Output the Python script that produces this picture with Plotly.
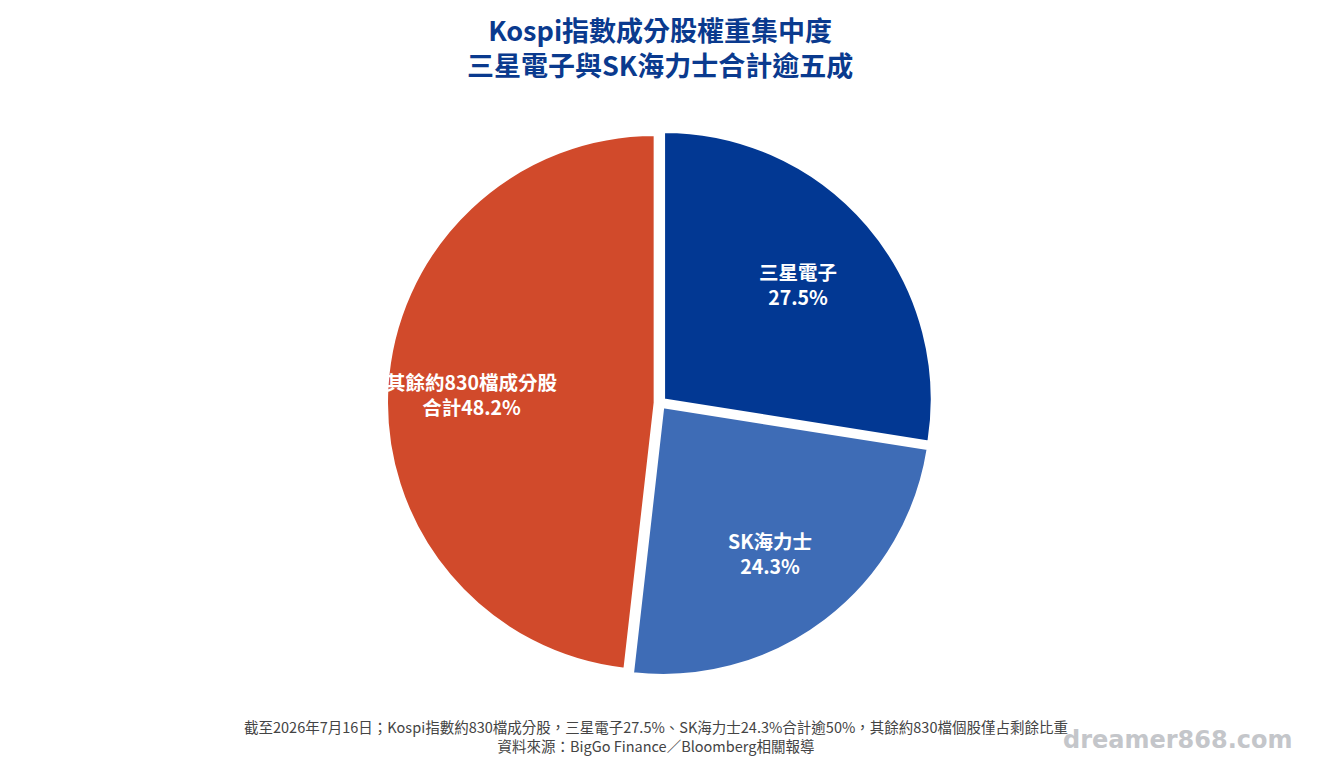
import math
import plotly.graph_objects as go

labels = ["三星電子", "SK海力士", "其餘約830檔成分股"]
values = [27.5, 24.3, 48.2]
slice_text = ["三星電子<br>27.5%", "SK海力士<br>24.3%", "其餘約830檔成分股<br>合計48.2%"]
colors = ["#023893", "#3e6cb6", "#d14a2b"]

title_text = "Kospi指數成分股權重集中度<br>三星電子與SK海力士合計逾五成"
note_text = ("截至2026年7月16日；Kospi指數約830檔成分股，三星電子27.5%、SK海力士24.3%合計逾50%，其餘約830檔個股僅占剩餘比重"
             "<br>資料來源：BigGo Finance／Bloomberg相關報導")
watermark = "dreamer868.com"

W, H = 1320, 770
ML, MR, MT, MB = 100, 100, 130, 94
PW, PH = W - ML - MR, H - MT - MB
PULL = 0.02


def px_to_paper(px, py):
    return (px - ML) / PW, (H - MB - py) / PH


fig = go.Figure(go.Pie(
    labels=labels,
    values=values,
    textinfo="none",
    hoverinfo="label+percent",
    sort=False,
    direction="clockwise",
    rotation=0,
    pull=[PULL] * len(values),
    marker=dict(colors=colors, line=dict(color="white", width=2)),
    showlegend=False,
))

# slice labels placed along each slice's mid-angle (derived from the data)
cx, cy = ML + PW / 2 - 3, MT + PH / 2 + 2
R = min(PW, PH) / 2 / (1 + PULL)
total = sum(values)
annotations = []
cum = 0.0
for v, t in zip(values, slice_text):
    mid = (cum + v / 2) / total * 2 * math.pi
    cum += v
    d = 0.695 * R
    lx, ly = cx + d * math.sin(mid), cy - d * math.cos(mid)
    x, y = px_to_paper(lx, ly)
    annotations.append(dict(text=t, x=x, y=y, xref="paper", yref="paper",
                            xanchor="center", yanchor="middle", showarrow=False,
                            align="center",
                            font=dict(family="Noto Sans CJK TC", size=19.5,
                                      color="white", weight="bold")))

tx, ty = px_to_paper(660, 47)
annotations.append(dict(text=title_text, x=tx, y=ty, xref="paper", yref="paper",
                        xanchor="center", yanchor="middle", showarrow=False, align="center",
                        font=dict(family="Noto Sans CJK TC", size=27, color="#0a3a8e",
                                  weight="bold")))

nx, ny = px_to_paper(656, 736)
annotations.append(dict(text=note_text, x=nx, y=ny, xref="paper", yref="paper",
                        xanchor="center", yanchor="middle", showarrow=False, align="center",
                        font=dict(family="Noto Sans CJK TC", size=14.5, color="#444444")))

wx, wy = px_to_paper(1295, 740)
annotations.append(dict(text=watermark, x=wx, y=wy, xref="paper", yref="paper",
                        xanchor="right", yanchor="middle", showarrow=False,
                        font=dict(family="DejaVu Sans", size=24, color="#c4c6ca",
                                  weight="bold")))

fig.update_layout(
    width=W, height=H,
    margin=dict(l=ML, r=MR, t=MT, b=MB),
    paper_bgcolor="white",
    plot_bgcolor="white",
    annotations=annotations,
)

fig.write_html("out.html")
